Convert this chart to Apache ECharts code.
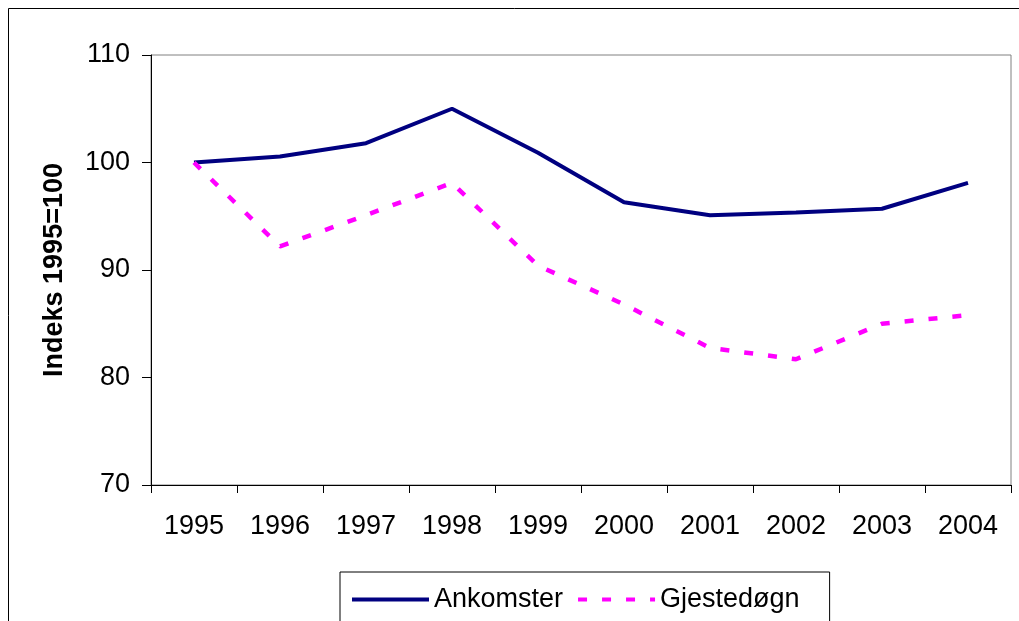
<!DOCTYPE html>
<html>
<head>
<meta charset="utf-8">
<script src="https://cdn.jsdelivr.net/npm/echarts@6/dist/echarts.min.js"></script>
<style>
    html, body { margin: 0; padding: 0; background: #fff; }
    #main { width: 1019px; height: 621px; }
</style>
</head>
<body>
<div id="main"></div>
<script>
// Chart data
const years = ["1995", "1996", "1997", "1998", "1999", "2000", "2001", "2002", "2003", "2004"];
const ankomster = [100, 100.56, 101.8, 105.0, 100.9, 96.3, 95.1, 95.35, 95.7, 98.1];
const gjestedogn = [100, 92.2, 95.1, 98.1, 90.4, 86.8, 82.75, 81.7, 85.0, 85.8];

const chart = echarts.init(document.getElementById("main"));

const font = "Liberation Sans, Arial, sans-serif";

const options = {
    animation: false,
    textStyle: { fontFamily: font },
    // Outer frame
    graphic: [
        {
            type: "rect",
            shape: { x: 8.5, y: 8.5, width: 1030, height: 640 },
            style: { fill: "none", stroke: "#000", lineWidth: 1 },
        },
    ],
    grid: {
        left: 151,
        right: 8,
        top: 55,
        bottom: 136,
        show: true,
        borderColor: "#808080",
        borderWidth: 1,
    },
    legend: {
        left: 340,
        top: 572,
        padding: [14, 30, 12, 10],
        borderColor: "#000",
        borderWidth: 1,
        itemWidth: 77,
        itemHeight: 14,
        itemGap: 13,
        itemStyle: { opacity: 0 },
        lineStyle: { width: 4 },
        textStyle: { fontSize: 27, color: "#000", fontFamily: font },
        data: ["Ankomster", "Gjestedøgn"],
    },
    xAxis: {
        type: "category",
        data: years,
        boundaryGap: true,
        axisLine: { lineStyle: { color: "#000", width: 1 } },
        axisTick: { show: true, length: 8, interval: 0, lineStyle: { color: "#000" } },
        axisLabel: { fontSize: 27, color: "#000", margin: 28, fontFamily: font },
        splitLine: { show: false },
    },
    yAxis: {
        type: "value",
        min: 70,
        max: 110,
        interval: 10,
        name: "Indeks 1995=100",
        nameLocation: "middle",
        nameGap: 83,
        nameTextStyle: { fontSize: 27, fontWeight: "bold", color: "#000", fontFamily: font },
        axisLine: { show: true, lineStyle: { color: "#000", width: 1 } },
        axisTick: { show: true, length: 9, lineStyle: { color: "#000" } },
        axisLabel: { fontSize: 27, color: "#000", margin: 21, fontFamily: font },
        splitLine: { show: false },
    },
    series: [
        {
            name: "Ankomster",
            type: "line",
            data: ankomster,
            color: "#000080",
            symbol: "none",
            lineStyle: { color: "#000080", width: 4 },
        },
        {
            name: "Gjestedøgn",
            type: "line",
            data: gjestedogn,
            color: "#ff00ff",
            symbol: "none",
            lineStyle: { color: "#ff00ff", width: 4.5, type: [9, 15] },
        },
    ],
};

chart.setOption(options);
</script>
</body>
</html>
